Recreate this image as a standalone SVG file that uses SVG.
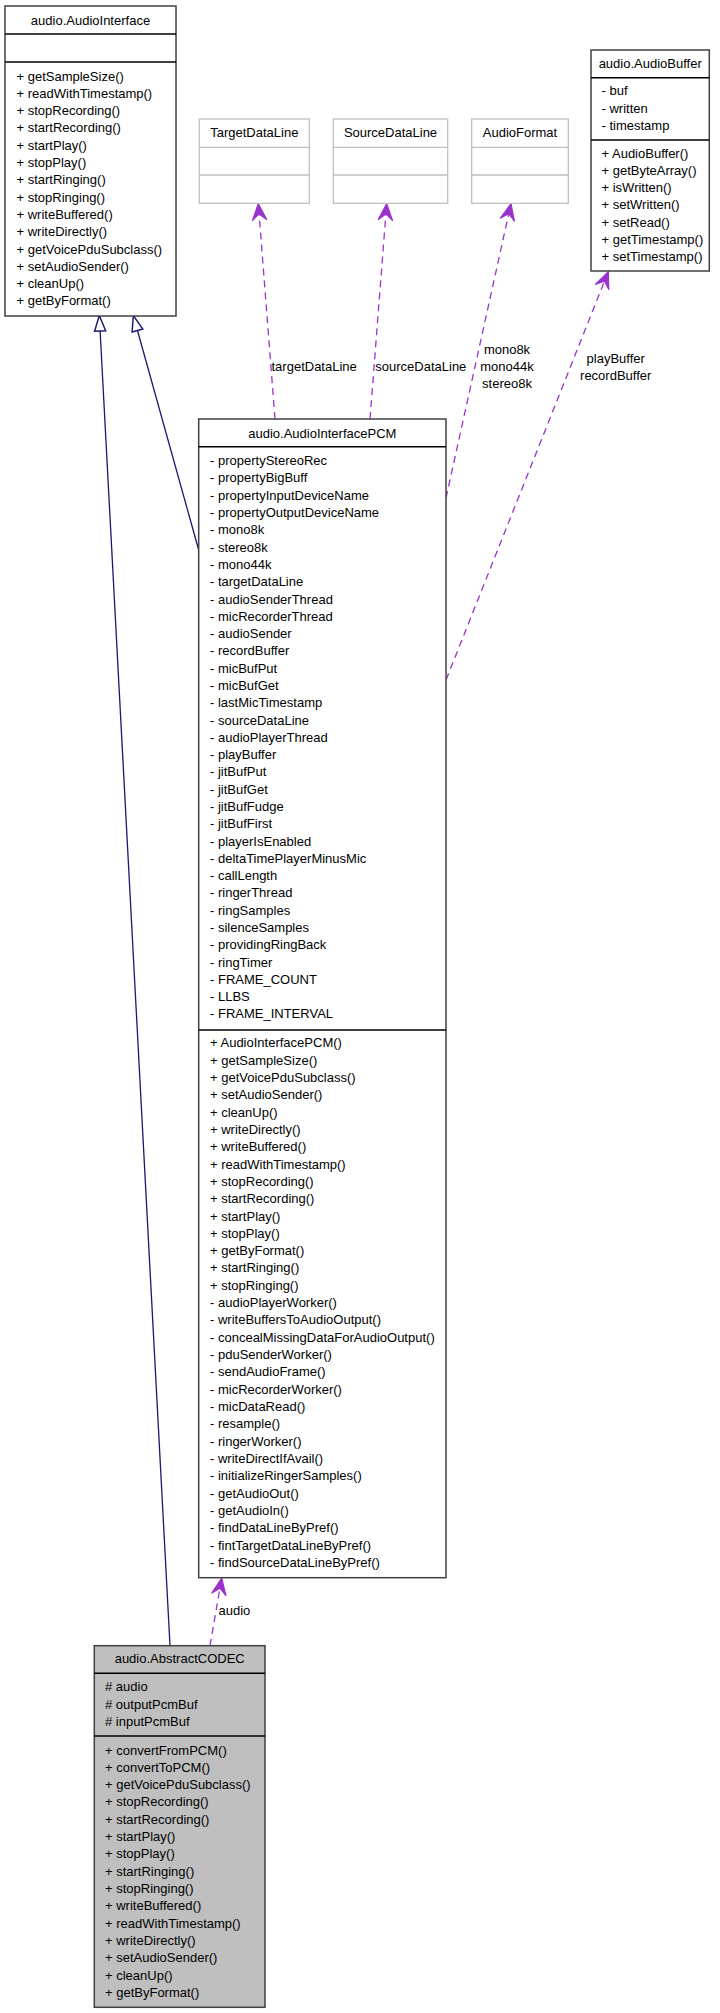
<svg xmlns="http://www.w3.org/2000/svg" width="720" height="2013" viewBox="0 0 720 2013">
<style>
text{font-family:"Liberation Sans",Arial,sans-serif;font-size:13px;fill:#000}
.c{text-anchor:middle}
.box{fill:#fff;stroke:#404040;stroke-width:1.5}
.cur{fill:#bfbfbf;stroke:#404040;stroke-width:1.5}
.ext{fill:#fff;stroke:#bfbfbf;stroke-width:1.3}
.div{stroke:#000;stroke-width:1.6}
.edv{stroke:#bfbfbf;stroke-width:1.3}
.gen{stroke:#191970;stroke-width:1.3;fill:none;marker-end:url(#tri)}
.dep{stroke:#9a32cd;stroke-width:1.3;fill:none;stroke-dasharray:7,5;marker-end:url(#vee)}
</style>
<defs>
<marker id="tri" markerUnits="userSpaceOnUse" markerWidth="20" markerHeight="20" viewBox="-16 -8 18 16" refX="0" refY="0" orient="auto">
<path d="M0,0 L-14,-5 L-14,5 Z" fill="#fff" stroke="#191970" stroke-width="1.3"/>
</marker>
<marker id="vee" markerUnits="userSpaceOnUse" markerWidth="20" markerHeight="20" viewBox="-17 -9 19 18" refX="0" refY="0" orient="auto">
<path d="M0,0 L-16,-7 L-10,0 L-16,7 Z" fill="#9a32cd" stroke="#9a32cd" stroke-width="1"/>
</marker>
</defs>

<g id="connectors">
<line class="gen" x1="170" y1="1645.7" x2="99.3" y2="315.5"/>
<line class="gen" x1="198.7" y1="550" x2="133.3" y2="315.5"/>
<line class="dep" x1="275" y1="419" x2="258.3" y2="203.5"/>
<line class="dep" x1="370" y1="419" x2="386.7" y2="203.5"/>
<line class="dep" x1="446" y1="498" x2="511" y2="203.5"/>
<line class="dep" x1="446" y1="680" x2="608.3" y2="271.5"/>
<line class="dep" x1="210" y1="1645.7" x2="221.7" y2="1578"/>
<text x="271.5" y="370.5">targetDataLine</text>
<text x="375.3" y="370.5">sourceDataLine</text>
<text class="c" x="507" y="353.8">mono8k</text>
<text class="c" x="507" y="371.1">mono44k</text>
<text class="c" x="507" y="388.4">stereo8k</text>
<text class="c" x="615.7" y="362.8">playBuffer</text>
<text class="c" x="615.7" y="380.1">recordBuffer</text>
<text x="218.5" y="1615">audio</text>
</g>

<g id="AudioInterface">
<rect class="box" x="5" y="6" width="171" height="310"/>
<line class="div" x1="5" y1="34" x2="176" y2="34"/>
<line class="div" x1="5" y1="62" x2="176" y2="62"/>
<text class="c" x="90.5" y="24.5">audio.AudioInterface</text>
<text x="16.5" y="80.5"><tspan x="16.5">+ getSampleSize()</tspan><tspan x="16.5" dy="17.3">+ readWithTimestamp()</tspan><tspan x="16.5" dy="17.3">+ stopRecording()</tspan><tspan x="16.5" dy="17.3">+ startRecording()</tspan><tspan x="16.5" dy="17.3">+ startPlay()</tspan><tspan x="16.5" dy="17.3">+ stopPlay()</tspan><tspan x="16.5" dy="17.3">+ startRinging()</tspan><tspan x="16.5" dy="17.3">+ stopRinging()</tspan><tspan x="16.5" dy="17.3">+ writeBuffered()</tspan><tspan x="16.5" dy="17.3">+ writeDirectly()</tspan><tspan x="16.5" dy="17.3">+ getVoicePduSubclass()</tspan><tspan x="16.5" dy="17.3">+ setAudioSender()</tspan><tspan x="16.5" dy="17.3">+ cleanUp()</tspan><tspan x="16.5" dy="17.3">+ getByFormat()</tspan></text>
</g>

<g id="TargetDataLine">
<rect class="ext" x="199.3" y="119" width="110" height="84.3"/>
<line class="edv" x1="199.3" y1="147.3" x2="309.3" y2="147.3"/>
<line class="edv" x1="199.3" y1="175" x2="309.3" y2="175"/>
<text class="c" x="254.3" y="136.8">TargetDataLine</text>
</g>

<g id="SourceDataLine">
<rect class="ext" x="333.3" y="119" width="114.4" height="84.3"/>
<line class="edv" x1="333.3" y1="147.3" x2="447.7" y2="147.3"/>
<line class="edv" x1="333.3" y1="175" x2="447.7" y2="175"/>
<text class="c" x="390.5" y="136.8">SourceDataLine</text>
</g>

<g id="AudioFormat">
<rect class="ext" x="471.7" y="119" width="96.6" height="84.3"/>
<line class="edv" x1="471.7" y1="147.3" x2="568.3" y2="147.3"/>
<line class="edv" x1="471.7" y1="175" x2="568.3" y2="175"/>
<text class="c" x="520" y="136.8">AudioFormat</text>
</g>

<g id="AudioBuffer">
<rect class="box" x="591" y="50" width="118.3" height="221"/>
<line class="div" x1="591" y1="77.7" x2="709.3" y2="77.7"/>
<line class="div" x1="591" y1="140" x2="709.3" y2="140"/>
<text class="c" x="650.2" y="67.8">audio.AudioBuffer</text>
<text x="601.5" y="95.2"><tspan x="601.5">- buf</tspan><tspan x="601.5" dy="17.3">- written</tspan><tspan x="601.5" dy="17.3">- timestamp</tspan></text>
<text x="601.5" y="157.8"><tspan x="601.5">+ AudioBuffer()</tspan><tspan x="601.5" dy="17.2">+ getByteArray()</tspan><tspan x="601.5" dy="17.2">+ isWritten()</tspan><tspan x="601.5" dy="17.2">+ setWritten()</tspan><tspan x="601.5" dy="17.2">+ setRead()</tspan><tspan x="601.5" dy="17.2">+ getTimestamp()</tspan><tspan x="601.5" dy="17.2">+ setTimestamp()</tspan></text>
</g>

<g id="AudioInterfacePCM">
<rect class="box" x="198.7" y="419" width="247.3" height="1158.7"/>
<line class="div" x1="198.7" y1="446.7" x2="446" y2="446.7"/>
<line class="div" x1="198.7" y1="1030" x2="446" y2="1030"/>
<text class="c" x="322.3" y="437.8">audio.AudioInterfacePCM</text>
<text x="210" y="465.2"><tspan x="210">- propertyStereoRec</tspan><tspan x="210" dy="17.29">- propertyBigBuff</tspan><tspan x="210" dy="17.29">- propertyInputDeviceName</tspan><tspan x="210" dy="17.29">- propertyOutputDeviceName</tspan><tspan x="210" dy="17.29">- mono8k</tspan><tspan x="210" dy="17.29">- stereo8k</tspan><tspan x="210" dy="17.29">- mono44k</tspan><tspan x="210" dy="17.29">- targetDataLine</tspan><tspan x="210" dy="17.29">- audioSenderThread</tspan><tspan x="210" dy="17.29">- micRecorderThread</tspan><tspan x="210" dy="17.29">- audioSender</tspan><tspan x="210" dy="17.29">- recordBuffer</tspan><tspan x="210" dy="17.29">- micBufPut</tspan><tspan x="210" dy="17.29">- micBufGet</tspan><tspan x="210" dy="17.29">- lastMicTimestamp</tspan><tspan x="210" dy="17.29">- sourceDataLine</tspan><tspan x="210" dy="17.29">- audioPlayerThread</tspan><tspan x="210" dy="17.29">- playBuffer</tspan><tspan x="210" dy="17.29">- jitBufPut</tspan><tspan x="210" dy="17.29">- jitBufGet</tspan><tspan x="210" dy="17.29">- jitBufFudge</tspan><tspan x="210" dy="17.29">- jitBufFirst</tspan><tspan x="210" dy="17.29">- playerIsEnabled</tspan><tspan x="210" dy="17.29">- deltaTimePlayerMinusMic</tspan><tspan x="210" dy="17.29">- callLength</tspan><tspan x="210" dy="17.29">- ringerThread</tspan><tspan x="210" dy="17.29">- ringSamples</tspan><tspan x="210" dy="17.29">- silenceSamples</tspan><tspan x="210" dy="17.29">- providingRingBack</tspan><tspan x="210" dy="17.29">- ringTimer</tspan><tspan x="210" dy="17.29">- FRAME_COUNT</tspan><tspan x="210" dy="17.29">- LLBS</tspan><tspan x="210" dy="17.29">- FRAME_INTERVAL</tspan></text>
<text x="210" y="1047.2"><tspan x="210">+ AudioInterfacePCM()</tspan><tspan x="210" dy="17.33">+ getSampleSize()</tspan><tspan x="210" dy="17.33">+ getVoicePduSubclass()</tspan><tspan x="210" dy="17.33">+ setAudioSender()</tspan><tspan x="210" dy="17.33">+ cleanUp()</tspan><tspan x="210" dy="17.33">+ writeDirectly()</tspan><tspan x="210" dy="17.33">+ writeBuffered()</tspan><tspan x="210" dy="17.33">+ readWithTimestamp()</tspan><tspan x="210" dy="17.33">+ stopRecording()</tspan><tspan x="210" dy="17.33">+ startRecording()</tspan><tspan x="210" dy="17.33">+ startPlay()</tspan><tspan x="210" dy="17.33">+ stopPlay()</tspan><tspan x="210" dy="17.33">+ getByFormat()</tspan><tspan x="210" dy="17.33">+ startRinging()</tspan><tspan x="210" dy="17.33">+ stopRinging()</tspan><tspan x="210" dy="17.33">- audioPlayerWorker()</tspan><tspan x="210" dy="17.33">- writeBuffersToAudioOutput()</tspan><tspan x="210" dy="17.33">- concealMissingDataForAudioOutput()</tspan><tspan x="210" dy="17.33">- pduSenderWorker()</tspan><tspan x="210" dy="17.33">- sendAudioFrame()</tspan><tspan x="210" dy="17.33">- micRecorderWorker()</tspan><tspan x="210" dy="17.33">- micDataRead()</tspan><tspan x="210" dy="17.33">- resample()</tspan><tspan x="210" dy="17.33">- ringerWorker()</tspan><tspan x="210" dy="17.33">- writeDirectIfAvail()</tspan><tspan x="210" dy="17.33">- initializeRingerSamples()</tspan><tspan x="210" dy="17.33">- getAudioOut()</tspan><tspan x="210" dy="17.33">- getAudioIn()</tspan><tspan x="210" dy="17.33">- findDataLineByPref()</tspan><tspan x="210" dy="17.33">- fintTargetDataLineByPref()</tspan><tspan x="210" dy="17.33">- findSourceDataLineByPref()</tspan></text>
</g>

<g id="AbstractCODEC">
<rect class="cur" x="94.3" y="1645.7" width="170.7" height="361.6"/>
<line class="div" x1="94.3" y1="1673.3" x2="265" y2="1673.3"/>
<line class="div" x1="94.3" y1="1736" x2="265" y2="1736"/>
<text class="c" x="179.7" y="1662.8">audio.AbstractCODEC</text>
<text x="105" y="1691.2"><tspan x="105"># audio</tspan><tspan x="105" dy="17.3"># outputPcmBuf</tspan><tspan x="105" dy="17.3"># inputPcmBuf</tspan></text>
<text x="105" y="1754.5"><tspan x="105">+ convertFromPCM()</tspan><tspan x="105" dy="17.33">+ convertToPCM()</tspan><tspan x="105" dy="17.33">+ getVoicePduSubclass()</tspan><tspan x="105" dy="17.33">+ stopRecording()</tspan><tspan x="105" dy="17.33">+ startRecording()</tspan><tspan x="105" dy="17.33">+ startPlay()</tspan><tspan x="105" dy="17.33">+ stopPlay()</tspan><tspan x="105" dy="17.33">+ startRinging()</tspan><tspan x="105" dy="17.33">+ stopRinging()</tspan><tspan x="105" dy="17.33">+ writeBuffered()</tspan><tspan x="105" dy="17.33">+ readWithTimestamp()</tspan><tspan x="105" dy="17.33">+ writeDirectly()</tspan><tspan x="105" dy="17.33">+ setAudioSender()</tspan><tspan x="105" dy="17.33">+ cleanUp()</tspan><tspan x="105" dy="17.33">+ getByFormat()</tspan></text>
</g>
</svg>
